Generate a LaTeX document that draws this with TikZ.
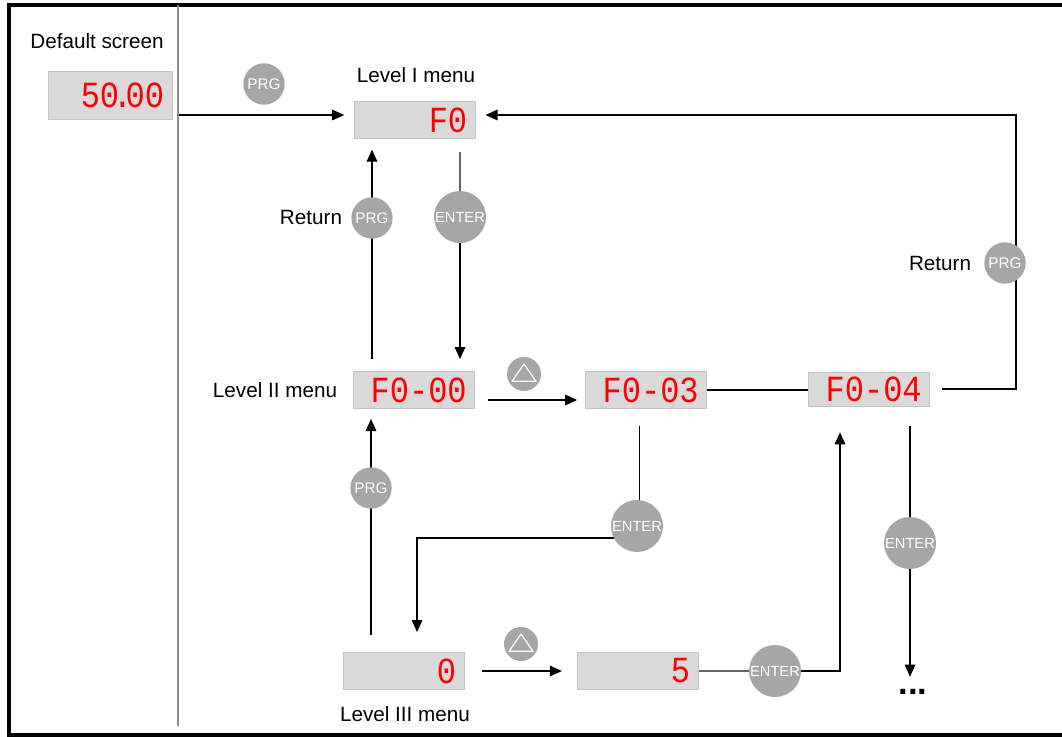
\documentclass[tikz,border=0pt]{standalone}
\usepackage{fontspec}
\setmainfont{Liberation Sans}
\newfontfamily\segfont{Liberation Mono}
\usepackage{graphicx}
\usetikzlibrary{arrows.meta}
\usepackage{xcolor}

\definecolor{lcdgray}{HTML}{D9D9D9}
\definecolor{lcdedge}{HTML}{C4C4C4}
\definecolor{keygray}{HTML}{A6A6A6}
\definecolor{segred}{HTML}{FF0000}

\newcommand\segtxt[1]{\scalebox{1}[1.15]{#1}}

\pgfdeclarelayer{bg}
\pgfsetlayers{bg,main}

\tikzset{
  lcd/.style={fill=lcdgray, draw=lcdedge, line width=0.5pt,
    text width=79pt, align=right, inner xsep=6pt, inner ysep=0pt,
    minimum height=28pt, text=segred,
    font=\segfont\fontsize{24}{24}\selectfont},
  key/.style={circle, fill=keygray, text=white, inner sep=0pt,
    minimum size=#1},
  prgkey/.style={key=31pt, font=\fontsize{11.5}{12}\selectfont},
  enterkey/.style={key=39pt, font=\fontsize{11}{11}\selectfont},
  upkey/.style={key=25.5pt, path picture={
    \draw[white, line width=0.9pt, line join=round]
      ([shift={(-9pt,-5.5pt)}]path picture bounding box.center)
      -- ++(18pt,0) -- ++(-9pt,13pt) -- cycle;}},
  lbl/.style={font=\fontsize{15.5}{18}\selectfont},
  arr/.style={-{Triangle[length=9pt,width=8pt]}, line width=0.8pt},
  plain/.style={line width=0.8pt},
}

\begin{document}
\begin{tikzpicture}[x=0.75pt, y=-0.75pt]
\useasboundingbox (0,0) rectangle (1062,736);

% frame and divider
\draw[line width=2.8pt] (1062,5) -- (9,5) -- (9,735) -- (1062,735);
\draw[black!45, line width=0.8pt] (178,5) -- (178,726);

% labels
\node[lbl] (dslbl) at (97,41) {Default screen};
\node[lbl] (l1lbl) at (416,75) {Level I menu};
\node[lbl] (l2lbl) at (275,390) {Level II menu};
\node[lbl] (l3lbl) at (405,714) {Level III menu};
\node[lbl] (retl) at (311,217) {Return};
\node[lbl] (retr) at (940,263) {Return};

% displays
\node[lcd, text width=81pt, minimum height=36pt] (dflt) at (110,95.5) {\segtxt{50\kern-0.2em.\kern-0.2em00}};
\node[lcd] (F0) at (414.5,120) {\segtxt{F0}};
\node[lcd] (F000) at (414,390) {\segtxt{F0-00}};
\node[lcd] (F003) at (646,390) {\segtxt{F0-03}};
\node[lcd, minimum height=25.5pt] (F004) at (869,389) {\segtxt{F0-04}};
\node[lcd] (L3a) at (403.5,671) {\segtxt{0}};
\node[lcd] (L3b) at (637.5,671) {\segtxt{5}};

% keys
\node[prgkey] (prg0) at (264,84) {PRG};
\node[prgkey] (prg1) at (372,218) {PRG};
\node[enterkey] (ent1) at (460,217) {ENTER};
\node[prgkey] (prgR) at (1005,263) {PRG};
\node[upkey] (up1) at (524,374) {};
\node[enterkey] (ent2) at (637,526) {ENTER};
\node[prgkey] (prg2) at (371,488) {PRG};
\node[upkey] (up2) at (521,644) {};
\node[enterkey] (ent3) at (775,671) {ENTER};
\node[enterkey] (ent4) at (910,543) {ENTER};
\node[font=\fontsize{26}{26}\selectfont\bfseries] (dots) at (913,692) {...};

\coordinate (dv) at (178,115);
\coordinate (rt) at (1016,115);
\coordinate (c1) at (417,538);
\coordinate (c2) at (840,671);

\begin{pgfonlayer}{bg}
\draw[arr] (dv) -- ([xshift=-7pt]F0.west |- dv);
\draw[arr] ([xshift=9pt]F004.east) -| (rt) -- ([xshift=7.5pt]F0.east |- rt);
\draw[arr] ([yshift=9pt]F000.north -| prg1) -- ([yshift=-8pt]F0.south -| prg1);
\draw[plain, black!60] ([yshift=-10pt]F0.south -| ent1) -- (ent1);
\draw[arr] (ent1) -- ([yshift=9pt]F000.north -| ent1);
\draw[arr] ([xshift=10pt,yshift=-7.5pt]F000.east) -- ([xshift=-6pt,yshift=-7.5pt]F003.west);
\draw[plain] (F003.east) -- (F004.west |- F003.east);
\draw[arr] ([xshift=-5pt,yshift=-13pt]F003.south) |- (c1) -- ([yshift=15pt]L3a.north -| c1);
\draw[arr] ([yshift=13pt]L3a.north -| prg2) -- ([yshift=-7.5pt]F000.south -| prg2);
\draw[arr] ([xshift=13pt]L3a.east) -- ([xshift=-11pt]L3b.west);
\draw[plain, black!60] (L3b.east) -- (ent3);
\draw[arr] (ent3) -- (c2) -- ([yshift=-19.5pt]F004.south -| c2);
\draw[arr] ([yshift=-15pt]F004.south -| ent4) -- ([yshift=6pt]dots.north -| ent4);
\end{pgfonlayer}
\end{tikzpicture}
\end{document}
